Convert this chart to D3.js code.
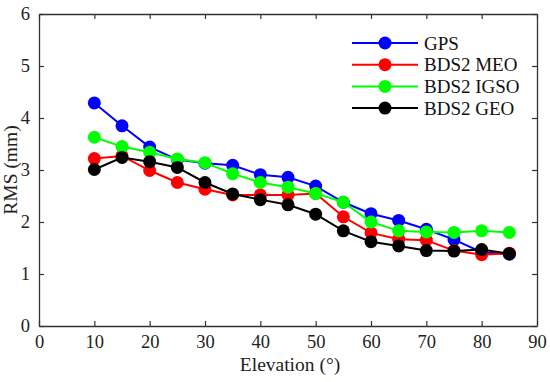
<!DOCTYPE html>
<html>
<head>
<meta charset="utf-8">
<script src="https://d3js.org/d3.v7.min.js"></script>
<style>
  body { margin: 0; background: #fff; }
</style>
</head>
<body>
<div id="chart"></div>
<script>
var elevation = [10, 15, 20, 25, 30, 35, 40, 45, 50, 55, 60, 65, 70, 75, 80, 85];
var gps  = [4.29, 3.85, 3.44, 3.20, 3.13, 3.09, 2.91, 2.86, 2.69, 2.38, 2.16, 2.03, 1.86, 1.66, 1.42, 1.38];
var meo  = [3.22, 3.27, 2.99, 2.76, 2.63, 2.52, 2.52, 2.52, 2.55, 2.10, 1.79, 1.67, 1.65, 1.45, 1.37, 1.40];
var igso = [3.63, 3.45, 3.34, 3.21, 3.14, 2.93, 2.76, 2.67, 2.55, 2.38, 2.00, 1.83, 1.81, 1.80, 1.83, 1.80];
var geo  = [3.01, 3.24, 3.16, 3.05, 2.76, 2.54, 2.43, 2.33, 2.15, 1.83, 1.62, 1.54, 1.45, 1.44, 1.47, 1.39];
var seriesNames = ["GPS", "BDS2 MEO", "BDS2 IGSO", "BDS2 GEO"];
var seriesColors = ["#0000ff", "#ff0000", "#00ff00", "#000000"];
var xTicks = [0, 10, 20, 30, 40, 50, 60, 70, 80, 90];
var yTicks = [0, 1, 2, 3, 4, 5, 6];

var serif = "Liberation Serif";
var width = 550, height = 382;
var margin = {top: 14, right: 13, bottom: 56, left: 39};
var w = width - margin.left - margin.right;
var h = height - margin.top - margin.bottom;

var svg = d3.select("#chart").append("svg").attr("width", width).attr("height", height);
var g = svg.append("g").attr("transform", "translate(" + margin.left + "," + margin.top + ")");

var x = d3.scaleLinear().domain([0, 90]).range([0, w]);
var y = d3.scaleLinear().domain([0, 6]).range([h, 0]);

// axes, ticks pointing inward
var styleAxis = function(sel) {
    sel.attr("font-family", serif);
    sel.selectAll("path").attr("stroke", "#333").attr("stroke-width", 1.3);
    sel.selectAll("line").attr("stroke", "#333").attr("stroke-width", 1.2);
    sel.selectAll("text").attr("font-size", "18.5px").attr("fill", "#222");
};

g.append("g").attr("transform", "translate(0," + h + ")")
    .call(d3.axisBottom(x).tickValues(xTicks).tickFormat(d3.format("d")).tickSizeInner(-5).tickSizeOuter(0).tickPadding(9))
    .call(styleAxis);
g.append("g")
    .call(d3.axisLeft(y).tickValues(yTicks).tickFormat(d3.format("d")).tickSizeInner(-5).tickSizeOuter(0).tickPadding(9))
    .call(styleAxis);
g.append("g")
    .call(d3.axisTop(x).tickValues(xTicks).tickSizeInner(-5).tickSizeOuter(0).tickFormat(""))
    .call(styleAxis);
g.append("g").attr("transform", "translate(" + w + ",0)")
    .call(d3.axisRight(y).tickValues(yTicks).tickSizeInner(-5).tickSizeOuter(0).tickFormat(""))
    .call(styleAxis);

// axis labels
g.append("text")
    .attr("x", x(45) + 2).attr("y", h + 45)
    .attr("text-anchor", "middle").attr("font-family", serif).attr("font-size", "19.5px").attr("fill", "#222")
    .text("Elevation (°)");
g.append("text")
    .attr("transform", "translate(" + (-22) + "," + (h / 2) + ") rotate(-90)")
    .attr("text-anchor", "middle").attr("font-family", serif).attr("font-size", "19.5px").attr("fill", "#222")
    .text("RMS (mm)");

var allSeries = [gps, meo, igso, geo];
var line = d3.line().x(function(d) { return x(d[0]); }).y(function(d) { return y(d[1]); });

allSeries.forEach(function(vals, i) {
    var pts = elevation.map(function(e, j) { return [e, vals[j]]; });
    g.append("path").datum(pts)
        .attr("d", line)
        .attr("fill", "none")
        .attr("stroke", seriesColors[i])
        .attr("stroke-width", 2);
    g.selectAll(".dot" + i).data(pts).enter().append("circle")
        .attr("cx", function(d) { return x(d[0]); })
        .attr("cy", function(d) { return y(d[1]); })
        .attr("r", 6.5)
        .attr("fill", seriesColors[i]);
});

// legend
var legend = g.append("g").attr("transform", "translate(" + (352 - margin.left) + "," + (43 - margin.top) + ")");
seriesNames.forEach(function(name, i) {
    var row = legend.append("g").attr("transform", "translate(0," + (i * 21.7) + ")");
    row.append("line").attr("x1", 0).attr("x2", 66).attr("y1", 0).attr("y2", 0)
        .attr("stroke", seriesColors[i]).attr("stroke-width", 2);
    row.append("circle").attr("cx", 33).attr("cy", 0).attr("r", 6.5).attr("fill", seriesColors[i]);
    row.append("text").attr("x", 72).attr("y", 6.5).attr("font-family", serif).attr("font-size", "19px").attr("fill", "#111").text(name);
});
</script>
</body>
</html>
